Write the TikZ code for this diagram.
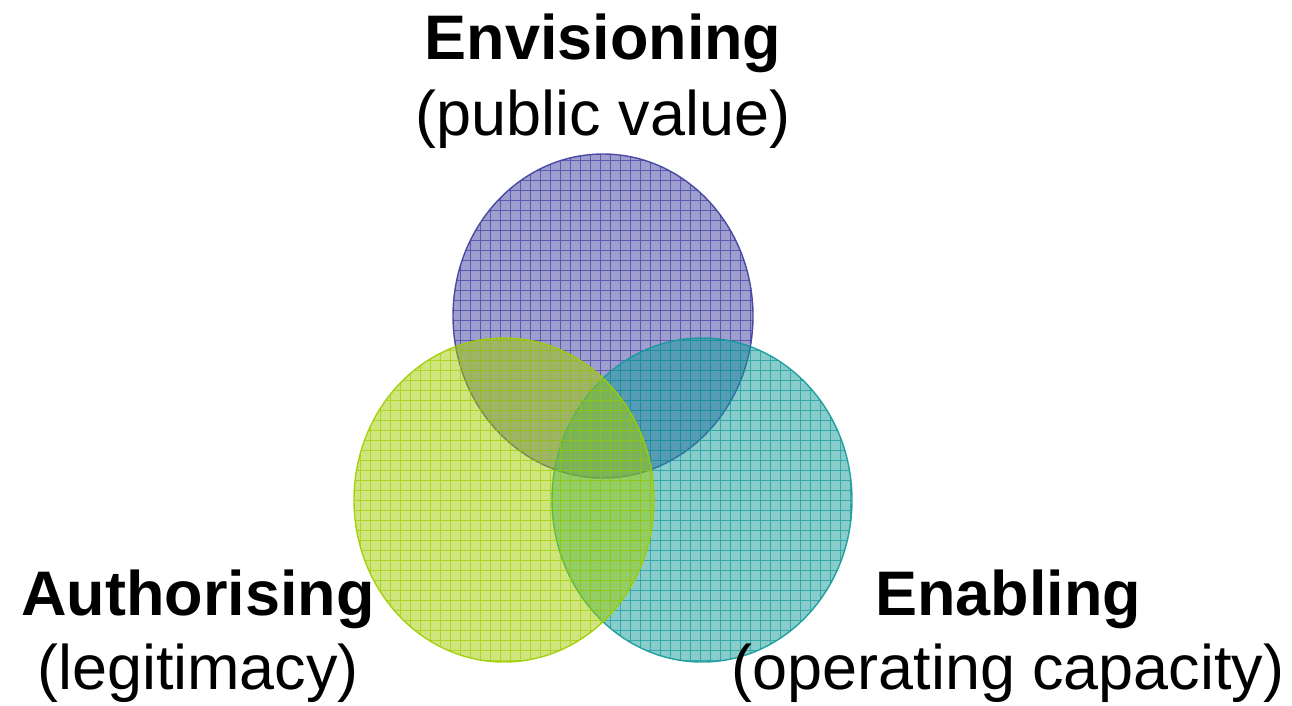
\documentclass[tikz,border=0pt]{standalone}
\usepackage{fontspec}
\setmainfont{Liberation Sans}
\usepackage{xcolor}
\definecolor{indigo}{HTML}{3D3DA0}
\definecolor{lime}{HTML}{9FCD00}
\definecolor{teal}{HTML}{119A99}
\usepackage{tikz}
\usetikzlibrary{positioning}

\begin{document}
\begin{tikzpicture}[
  x=0.01cm, y=-0.01cm,
  ring/.style={fill=#1, fill opacity=0.5, draw=#1, draw opacity=0.9, line width=0.4pt,
    path picture={\draw[#1, opacity=0.7, line width=0.3pt, step=0.1cm]
      (path picture bounding box.south west) grid (path picture bounding box.north east);}},
  every node/.style={font=\fontsize{17.9}{21.5}\selectfont, align=center, inner sep=0pt},
]
\useasboundingbox (0,0) rectangle (1292,705);

% Circles
\path[ring=indigo] (603,316) ellipse [x radius=150, y radius=162];
\path[ring=teal]   (702,500) ellipse [x radius=150, y radius=162];
\path[ring=lime]   (504,500) ellipse [x radius=150, y radius=162];

% Labels
\node[anchor=base] (env) at (603,59) {\textbf{Envisioning}};
\node[anchor=base] (envsub) at (603,135) {(public value)};
\node[anchor=base] (auth) at (198,615) {\textbf{Authorising}};
\node[anchor=base] (authsub) at (198,689) {(legitimacy)};
\node[anchor=base] (enab) at (1008,615) {\textbf{Enabling}};
\node[anchor=base] (enabsub) at (1008,689) {(operating capacity)};

\end{tikzpicture}
\end{document}
